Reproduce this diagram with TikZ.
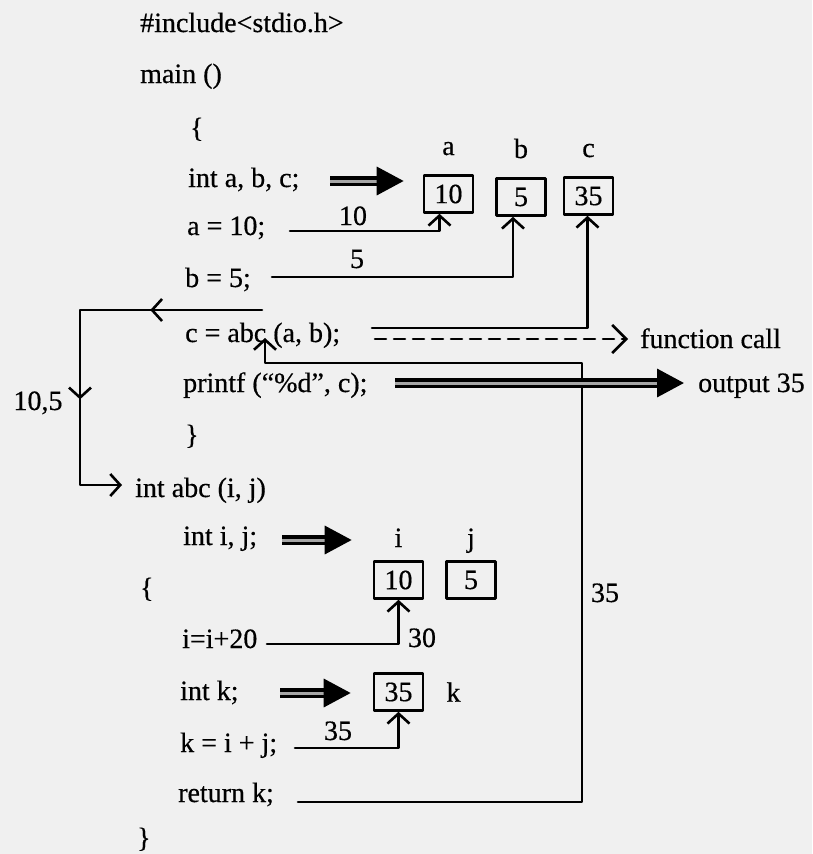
\documentclass[tikz,border=0pt]{standalone}
\usepackage{fontspec}
\setmainfont{Liberation Serif}[FakeBold=0.5]
\usetikzlibrary{arrows.meta, positioning, decorations.markings}

\tikzset{
  code/.style={anchor=base west, inner sep=0pt, font=\fontsize{28}{34}\selectfont},
  tag/.style={anchor=base, inner sep=0pt, text depth=0pt, font=\fontsize{28}{34}\selectfont},
  cell/.style={draw, line width=2.6pt, minimum width=49pt, minimum height=37pt, inner sep=0pt,
    font=\fontsize{28}{34}\selectfont},
  wire/.style={line width=2.6pt, -{Straight Barb[length=10pt, width=22pt]}},
  fat/.style={double=black!35, double distance=3pt, line width=3.5pt, line cap=butt,
    -{Triangle[length=27pt, width=28pt]}},
  callline/.style={line width=2.6pt, dash pattern=on 11pt off 8pt, -{Straight Barb[length=14pt, width=28pt]}}
}

\begin{document}
\begin{tikzpicture}[x=1pt, y=-1pt, line cap=round, line join=round]

    % Paper
    \fill[black!6] (0,0) rectangle (812,854);
    \useasboundingbox (0,0) rectangle (812,854);

    % Program text
    \foreach \n/\x/\y/\t in {
        inc/140/32/{\#include<stdio.h>},
        mainln/140/83/{main ()},
        obr/190/137/{\{},
        decl/188/187/{int a, b, c;},
        asa/187/235/{a = 10;},
        asb/185/287/{b = 5;},
        asc/185/342/{c = abc (a, b);},
        prt/183/392/{printf (“\%d”, c);},
        cbr/185/444/{\}},
        fhead/135/497/{int abc (i, j)},
        decij/183/545/{int i, j;},
        obrf/140/597/{\{},
        asi/182/648/{i=i+20},
        deck/180/700/{int k;},
        ask/180/752/{k = i + j;},
        ret/178/802/{return k;},
        cbrf/137/847/{\}}
    }{
        \node[code] (\n) at (\x,\y) {\t};
    }

    % Memory cells
    \node[cell] (boxa) at (448.5,194) {10};
    \node[cell] (boxb) at (521,197) {5};
    \node[cell] (boxc) at (588.5,196) {35};
    \node[cell] (boxi) at (398.5,580) {10};
    \node[cell] (boxj) at (471,580) {5};
    \node[cell] (boxk) at (398.5,692) {35};

    \node[tag, above=19pt of boxa] (la) {a};
    \node[tag, above=19pt of boxb] (lb) {b};
    \node[tag, above=19pt of boxc] (lc) {c};
    \node[tag, above=13pt of boxi] (li) {i};
    \node[tag, above=13pt of boxj] (lj) {j};
    \node[tag, right=22pt of boxk] (lk) {k};

    % Values on the lines
    \node[tag] (v10) at (353,225) {10};
    \node[tag] (v5) at (357,268) {5};
    \node[tag] (v30) at (422,647) {30};
    \node[tag] (v35) at (338,740) {35};
    \node[tag] (vret) at (605,602) {35};
    \node[tag] (vargs) at (38,410) {10,5};
    \node[code] (fcall) at (640,348) {function call};
    \node[code] (outp) at (698,392) {output 35};

    % Free ends
    \coordinate (declsrc) at (330,181);
    \coordinate (ijsrc) at (282,540);
    \coordinate (ksrc) at (280,693);
    \coordinate (seta) at (290,231);
    \coordinate (setb) at (272,277);
    \coordinate (setc) at (372,328);
    \coordinate (seti) at (267,644);
    \coordinate (setk) at (295,748);
    \coordinate (callsrc) at (375,339);
    \coordinate (printsrc) at (395,383);
    \coordinate (argsrc) at (262,310);
    \coordinate (argturn) at (80,485);
    \coordinate (argin) at (122,485);
    \coordinate (retsrc) at (298,802);
    \coordinate (retturn) at (582,363);
    \coordinate (retin) at (265,338);

    % Declarations
    \draw[fat, shorten >=19pt] (declsrc) -- (declsrc -| boxa.west);
    \draw[fat, shorten >=21pt] (ijsrc) -- (ijsrc -| boxi.west);
    \draw[fat, shorten >=22pt] (ksrc) -- (ksrc -| boxk.west);

    % Assignments
    \draw[wire] (seta) -| ([xshift=-9pt]boxa.south);
    \draw[wire] (setb) -| ([xshift=-8pt]boxb.south);
    \draw[wire] (setc) -| ([xshift=-1pt]boxc.south);
    \draw[wire] (seti) -| (boxi.south);
    \draw[wire] (setk) -| (boxk.south);

    % Call, arguments and return
    \draw[callline, shorten >=12pt] (callsrc) -- (callsrc -| fcall.west);
    \draw[wire, postaction={decorate}, decoration={markings,
        mark=at position 0.28 with {\arrow{Straight Barb[length=10pt, width=22pt]}},
        mark=at position 0.68 with {\arrow{Straight Barb[length=10pt, width=22pt]}}}]
        (argsrc) -| (argturn) -- (argin);
    \draw[wire] (retsrc) -| (retturn) -| (retin);

    % Output
    \draw[fat, shorten >=14pt] (printsrc) -- (printsrc -| outp.west);

\end{tikzpicture}
\end{document}
